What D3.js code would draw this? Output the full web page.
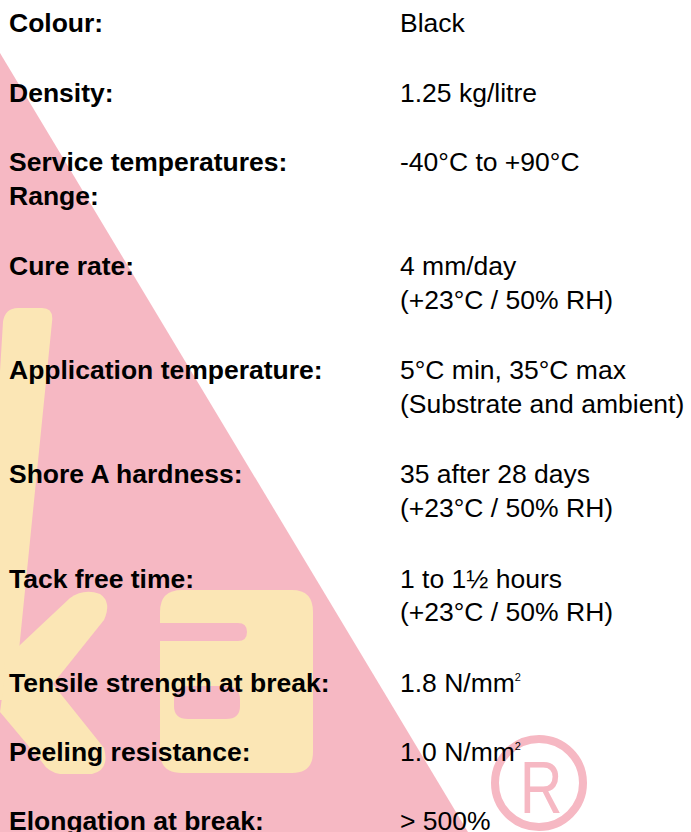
<!DOCTYPE html>
<meta charset="utf-8">
<script src="https://d3js.org/d3.v7.min.js"></script>
<style>
  body { margin: 0; background: #fff; }
  svg { display: block; }
</style>
<body>
<svg id="sheet"></svg>

<script>
// Rows of the data sheet: label lines and value lines
const labels = [
  ["Colour:"],
  ["Density:"],
  ["Service temperatures:", "Range:"],
  ["Cure rate:"],
  ["Application temperature:"],
  ["Shore A hardness:"],
  ["Tack free time:"],
  ["Tensile strength at break:"],
  ["Peeling resistance:"],
  ["Elongation at break:"]
];
const values = [
  ["Black"],
  ["1.25 kg/litre"],
  ["-40°C to +90°C"],
  ["4 mm/day", "(+23°C / 50% RH)"],
  ["5°C min, 35°C max", "(Substrate and ambient)"],
  ["35 after 28 days", "(+23°C / 50% RH)"],
  ["1 to 1½ hours", "(+23°C / 50% RH)"],
  ["1.8 N/mm²"],
  ["1.0 N/mm²"],
  ["> 500%"]
];

const width = 691, height = 832;
const svg = d3.select("#sheet").attr("width", width).attr("height", height);

const pink = "#f6b8c3", yellow = "#fbe6b5";

// ---- watermark (logo triangle, letters, registered mark) ----
const wm = svg.append("g");
wm.append("path")
  .attr("d", "M0,53 L480,852 L0,852 Z")
  .attr("fill", pink);

// letter "k"
const k = wm.append("g").attr("fill", yellow);
k.append("path")
  .attr("d", "M-20,700 L3,322 Q5,308 18,308 L42,308 Q54,308 52,322 L14,700 Z");
k.append("path")
  .attr("d", "M4,660 L70,598 Q84,588 100,594 Q112,602 104,620 L40,700 L6,706 Z");
k.append("path")
  .attr("d", "M6,668 L40,668 L104,748 Q110,770 92,774 L60,774 Q48,772 42,762 L0,712 Z");

// letter "a"
const a = wm.append("g");
a.append("path")
  .attr("fill", yellow)
  .attr("d", "M182,590 L292,590 Q313,590 313,612 L313,752 Q313,773 292,773 L182,773 Q160,773 160,752 L160,612 Q160,590 182,590 Z");
a.append("path")
  .attr("fill", pink)
  .attr("d", "M150,623 L238,623 Q247,623 247,632 Q247,641 238,641 L150,641 Z");
a.append("path")
  .attr("fill", pink)
  .attr("d", "M188,686 L226,686 Q240,686 240,700 L240,706 Q240,719 226,719 L188,719 Q174,719 174,706 L174,700 Q174,686 188,686 Z");

// registered mark
wm.append("circle")
  .attr("cx", 539).attr("cy", 783).attr("r", 44)
  .attr("fill", "none").attr("stroke", pink).attr("stroke-width", 8);
wm.append("text")
  .attr("x", 0).attr("y", 0)
  .attr("transform", "translate(541,813) scale(0.8,1)")
  .attr("text-anchor", "middle")
  .attr("font-family", "Liberation Sans, Arial, sans-serif")
  .attr("font-size", 74)
  .attr("fill", pink)
  .text("R");

// ---- text table ----
const lineUnit = 34.7, innerLine = 33.5;
const rowLines = labels.map((l, i) => Math.max(l.length, values[i].length));
const rowStart = [];
rowLines.reduce((acc, n, i) => { rowStart[i] = acc; return acc + n + 1; }, 0);

const y = d3.scaleLinear()
  .domain([0, 1])
  .range([32.3, 32.3 + lineUnit]);

const x = d3.scalePoint()
  .domain(["label", "value"])
  .range([9, 400]);

const font = "Liberation Sans, Arial, Helvetica, sans-serif";
const fs = 26.5;

const rows = svg.append("g")
  .selectAll("g")
  .data(labels)
  .join("g")
  .attr("transform", (d, i) => `translate(0,${y(rowStart[i])})`);

rows.each(function (d, i) {
  const g = d3.select(this);
  d.forEach((line, j) => {
    g.append("text")
      .attr("x", x("label"))
      .attr("y", j * innerLine)
      .attr("font-family", font)
      .attr("font-size", fs)
      .attr("font-weight", "bold")
      .attr("fill", "#000")
      .text(line);
  });
  values[i].forEach((line, j) => {
    const t = g.append("text")
      .attr("x", x("value"))
      .attr("y", j * innerLine)
      .attr("font-family", font)
      .attr("font-size", fs)
      .attr("fill", "#000");
    const parts = line.split("²");
    t.append("tspan").text(parts[0]);
    if (parts.length > 1) {
      t.append("tspan")
        .attr("font-size", 11)
        .attr("dy", -11)
        .text("2");
    }
  });
});
</script>
</body>
